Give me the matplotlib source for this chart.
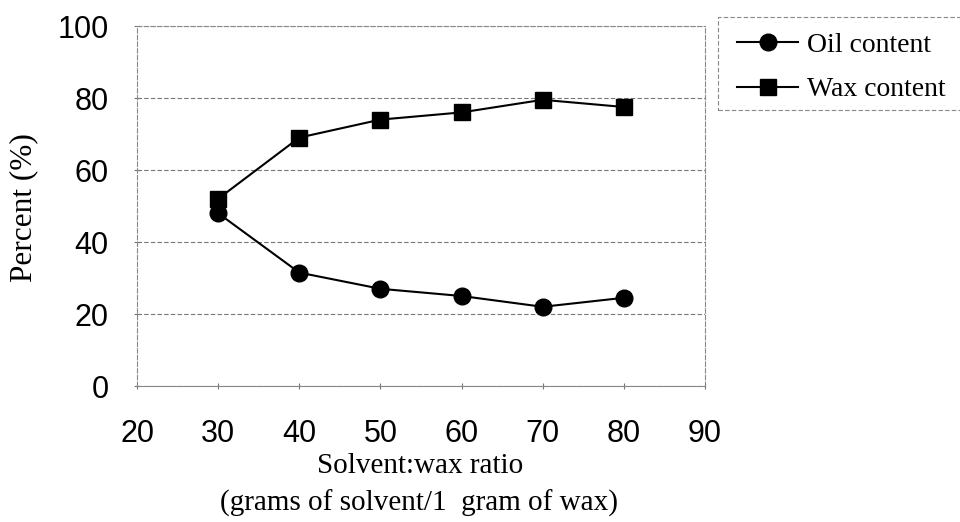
import matplotlib
matplotlib.use("Agg")
import matplotlib.pyplot as plt
from matplotlib.patches import Rectangle

ratio = [30, 40, 50, 60, 70, 80]
oil_content = [48, 31.5, 27, 25, 22, 24.5]
wax_content = [52, 69, 74, 76, 79.5, 77.5]
x_ticks = [20, 30, 40, 50, 60, 70, 80, 90]
y_ticks = [0, 20, 40, 60, 80, 100]

W, H = 960, 522
fig = plt.figure(figsize=(9.6, 5.22), dpi=100)
ax = fig.add_axes([137 / W, 1 - 386 / H, (705 - 137) / W, (386 - 26) / H])

ax.plot(ratio, oil_content, color="black", lw=1.5, marker="o", ms=12, label="Oil content")
ax.plot(ratio, wax_content, color="black", lw=1.5, marker="s", ms=11, label="Wax content")

ax.set_xlim(20, 90)
ax.set_ylim(0, 100)
ax.set_xticks(x_ticks)
ax.set_yticks(y_ticks)
ax.tick_params(axis="both", labelsize=22, direction="inout", length=5, color="#777777", width=0.8)
for lab in ax.get_xticklabels() + ax.get_yticklabels():
    lab.set_fontfamily("Liberation Sans")
ax.tick_params(axis="x", pad=21)
ax.tick_params(axis="y", pad=18)

ax.yaxis.grid(True, color="#777777", ls=(0, (4, 2)), lw=0.8)
for s in ax.spines.values():
    s.set_color("#888888")
    s.set_linewidth(0.8)
    s.set_linestyle((0, (4, 2)))
ax.spines["bottom"].set_linestyle("-")

fig.text(24 / W, 1 - 208 / H, "Percent (%)", rotation=90, ha="center", va="center",
         fontsize=22.5, fontfamily="Liberation Serif")
fig.text(420 / W, 1 - 466 / H, "Solvent:wax ratio", ha="center", va="center",
         fontsize=21, fontfamily="Liberation Serif")
fig.text(419 / W, 1 - 503 / H, "(grams of solvent/1  gram of wax)", ha="center", va="center",
         fontsize=21, fontfamily="Liberation Serif")

leg = fig.legend(loc="upper left", bbox_to_anchor=(726 / W, 1 - 21 / H),
                 prop={"family": "Liberation Serif", "size": 20}, frameon=False,
                 handlelength=2.2, borderpad=0.4, labelspacing=0.7,
                 handletextpad=0.3, borderaxespad=0)
fig.patches.append(Rectangle((718 / W, 1 - 110 / H), 250 / W, 93 / H,
                             transform=fig.transFigure, fill=False,
                             edgecolor="#888888", lw=0.8, ls=(0, (4, 2))))

fig.savefig("out.png", dpi=100)
